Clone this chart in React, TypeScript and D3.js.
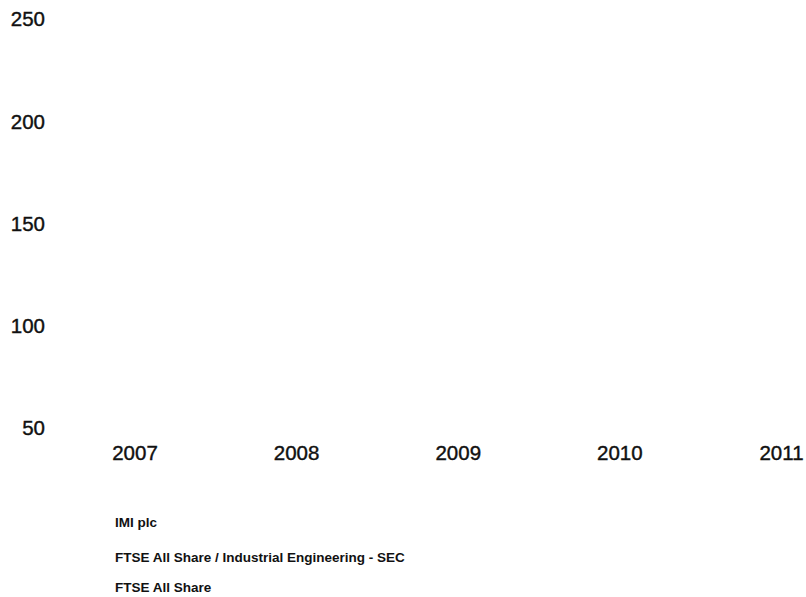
import React from "react";
import * as d3 from "d3";

const years = [2007, 2008, 2009, 2010, 2011];
const yTicks = [50, 100, 150, 200, 250];
const seriesNames = [
  "IMI plc",
  "FTSE All Share / Industrial Engineering - SEC",
  "FTSE All Share",
];

const W = 806;
const H = 597;

export default function App() {
  const x = d3.scalePoint<number>().domain(years).range([135, 781.5]);
  const y = d3.scaleLinear().domain([50, 250]).range([427.5, 19]);
  const legendY = [522.5, 557, 587];
  const font = "'Liberation Sans', Arial, Helvetica, sans-serif";
  return (
    <svg
      width={W}
      height={H}
      style={{ position: "absolute", left: 0, top: 0, background: "#fff" }}
      fontFamily={font}
    >
      <rect width={W} height={H} fill="#fff" />
      <g>
        {yTicks.map((t) => (
          <text
            key={t}
            x={45}
            y={y(t)}
            dy="0.36em"
            textAnchor="end"
            fontSize={20.5}
            fill="#111"
            stroke="#111"
            strokeWidth={0.4}
          >
            {t}
          </text>
        ))}
      </g>
      <g>
        {years.map((yr) => (
          <text
            key={yr}
            x={x(yr)}
            y={452.5}
            dy="0.36em"
            textAnchor="middle"
            fontSize={20.5}
            fill="#111"
            stroke="#111"
            strokeWidth={0.4}
          >
            {yr}
          </text>
        ))}
      </g>
      <g>
        {seriesNames.map((n, i) => (
          <text
            key={n}
            x={115}
            y={legendY[i]}
            dy="0.36em"
            fontSize={13.5}
            fontWeight="bold"
            fill="#111"
          >
            {n}
          </text>
        ))}
      </g>
    </svg>
  );
}
